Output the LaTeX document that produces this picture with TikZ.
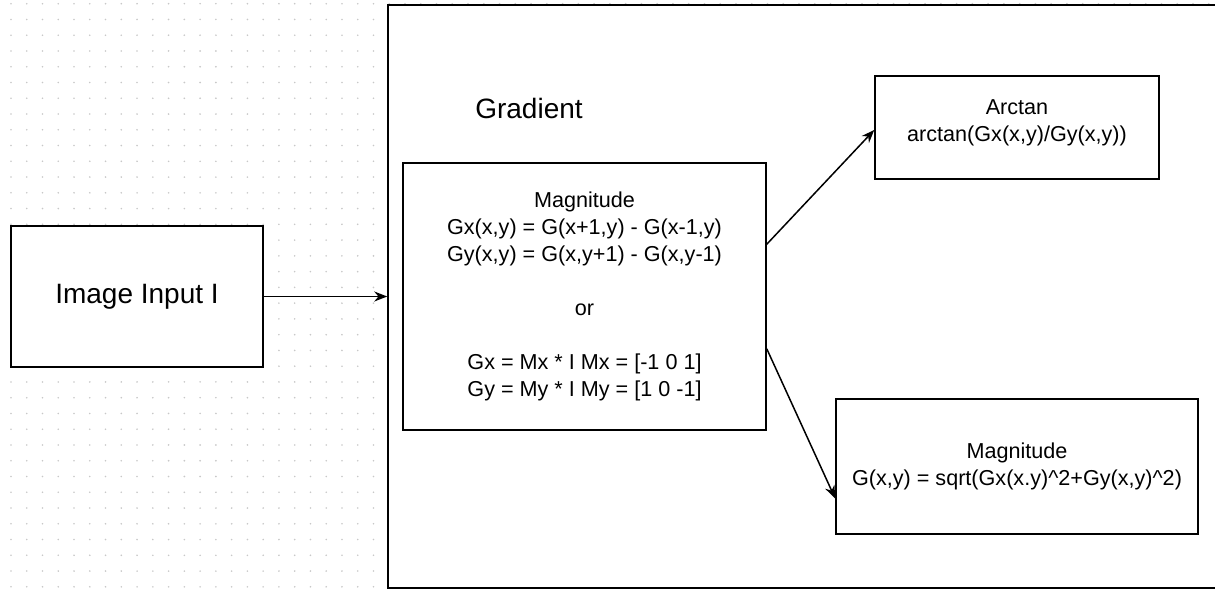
\documentclass[tikz,border=0pt]{standalone}
\usepackage{fontspec}
\setmainfont{Liberation Sans}
\usetikzlibrary{arrows.meta}
\definecolor{dotgray}{RGB}{200,200,200}
\begin{document}
\begin{tikzpicture}[x=0.5pt, y=-0.5pt, line width=0.75pt,
      >={Stealth[length=6.5pt, width=5pt]},
      block/.style={shape=rectangle, draw=black, fill=white, inner sep=0pt, align=center,
            font=\fontsize{10.8}{13.45}\selectfont},
      big/.style={font=\fontsize{14}{17}\selectfont}]
      \useasboundingbox (0,0) rectangle (1215,590);

      % dotted grid
      \foreach \i in {0,...,77}
            \foreach \j in {0,...,37}
                  \fill[dotgray] (11+15.76*\i, 3.7+15.76*\j) circle (0.45pt);

      \node[block, minimum width=418.5pt, minimum height=291.5pt] (frame) at (806.5,296.5) {};
      \node[block, big, minimum width=126pt, minimum height=70.5pt] (input) at (137,296.5) {Image Input I};
      \node[big] (title) at (529,108) {Gradient};
      \node[block, minimum width=181.5pt, minimum height=133.5pt] (grad) at (584.5,296.5)
            {Magnitude\\Gx(x,y) = G(x+1,y) - G(x-1,y)\\Gy(x,y) = G(x,y+1) - G(x,y-1)\\[13.45pt]or\\[13.45pt]Gx = Mx * I Mx = [-1 0 1]\\Gy = My * I My = [1 0 -1]};
      \node[block, minimum width=142pt, minimum height=51.5pt, text depth=7pt] (arctan) at (1017,127.5)
            {Arctan\\arctan(Gx(x,y)/Gy(x,y))};
      \node[block, minimum width=181pt, minimum height=67.5pt] (magn) at (1017,466.5)
            {Magnitude\\G(x,y) = sqrt(Gx(x.y)\^{}2+Gy(x,y)\^{}2)};

      \path [->] (input) edge (frame);
      \path [->] (grad.16) edge (arctan.181);
      \path [->] (grad.-16) edge (magn.190);

      \end{tikzpicture}
\end{document}
